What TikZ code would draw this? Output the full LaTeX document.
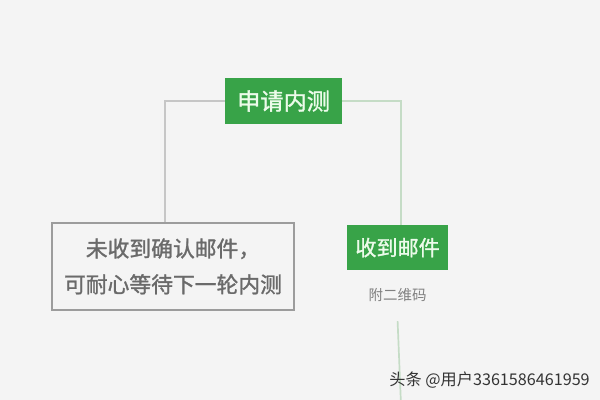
\documentclass[tikz,border=0pt]{standalone}
\usepackage{fontspec}
\setmainfont{Noto Sans CJK SC}
\newfontfamily\heavycjk{Noto Sans CJK SC}[FakeBold=1.3]
\usetikzlibrary{positioning}
\definecolor{bggray}{HTML}{F4F4F4}
\definecolor{boxgreen}{HTML}{38A348}
\definecolor{paletext}{HTML}{ECFBEA}
\definecolor{linegray}{HTML}{C6C6C6}
\definecolor{linegreen}{HTML}{C5DCC6}
\definecolor{framegray}{HTML}{9C9C9C}
\definecolor{textgray}{HTML}{6A6A6A}
\tikzstyle{greenbox} = [fill=boxgreen, text=paletext, inner sep=0pt, align=center]
\tikzstyle{graybox} = [draw=framegray, line width=1.4pt, text=textgray, inner sep=0pt, align=center]
\tikzstyle{linkg} = [draw=linegray, line width=1.2pt]
\tikzstyle{linkt} = [draw=linegreen, line width=1.2pt]

\begin{document}
\begin{tikzpicture}[x=1cm, y=1cm]
        \fill[bggray] (0,0) rectangle (15,10);
        \useasboundingbox (0,0) rectangle (15,10);

        \node (apply) [greenbox, minimum width=2.93cm, minimum height=1.15cm, font=\heavycjk\fontsize{16.5}{18}\selectfont] at (7.09,7.475) {申请内测};
        \node (wait) [graybox, minimum width=6.05cm, minimum height=2.17cm, font=\heavycjk\fontsize{15.5}{25.5}\selectfont] at (4.325,3.34) {未收到确认邮件，\\ 可耐心等待下一轮内测};
        \node (mail) [greenbox, minimum width=2.53cm, minimum height=1.13cm, font=\heavycjk\fontsize{15}{17}\selectfont] at (9.94,3.81) {收到邮件};
        \node (code) [text=textgray!85, inner sep=1pt, below=0.4cm of mail, font=\fontsize{10.3}{12}\selectfont] {附二维码};
        \coordinate (tail) at (10.02,0);

        \draw[linkg] (apply.west) -| ([xshift=-0.2cm]wait.north);
        \draw[linkt] (apply.east) -| ([xshift=0.08cm]mail.north);
        \draw[linkt] ([yshift=-0.45cm]code.south) -- (tail);

        \node (mark) [text=black!80, inner sep=0pt, anchor=east, font=\fontsize{11.5}{14}\selectfont] at (14.75,0.5) {头条 @用户3361586461959};
\end{tikzpicture}
\end{document}
